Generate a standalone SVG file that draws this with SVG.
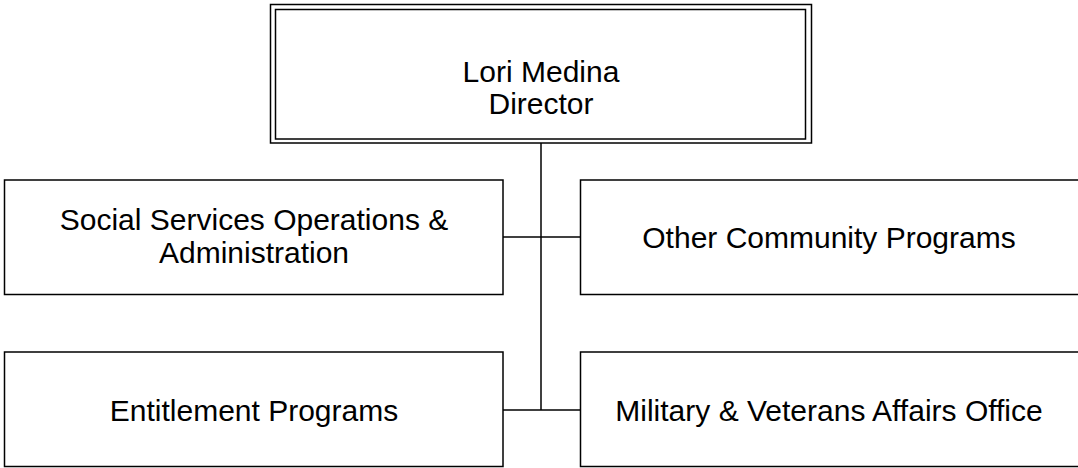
<svg xmlns="http://www.w3.org/2000/svg" width="1078" height="468" viewBox="0 0 1078 468">
<style>
.box{fill:#fff;stroke:#000;stroke-width:1.5}
.ln{fill:none;stroke:#000;stroke-width:1.5}
text{font-family:"Liberation Sans",Arial,sans-serif;font-size:30px;fill:#000;text-anchor:middle}
</style>
<rect width="1078" height="468" fill="#fff"/>
<g id="connectors">
<line class="ln" x1="541" y1="143" x2="541" y2="410"/>
<line class="ln" x1="503" y1="237" x2="580" y2="237"/>
<line class="ln" x1="503" y1="410" x2="580" y2="410"/>
</g>
<g id="director">
<rect class="box" x="270.5" y="4.5" width="541" height="138.5"/>
<rect class="box" x="275.5" y="9.5" width="530" height="129.5"/>
<text x="541" y="82">Lori Medina</text>
<text x="541" y="114">Director</text>
</g>
<g id="ssoa">
<rect class="box" x="4.5" y="180" width="498.5" height="114.5"/>
<text x="254" y="230">Social Services Operations &amp;</text>
<text x="254" y="263">Administration</text>
</g>
<g id="ocp">
<rect class="box" x="580.5" y="180" width="500" height="114.5"/>
<text x="829" y="248">Other Community Programs</text>
</g>
<g id="ep">
<rect class="box" x="4.5" y="352" width="498.5" height="114.5"/>
<text x="254" y="421">Entitlement Programs</text>
</g>
<g id="mvao">
<rect class="box" x="580.5" y="352" width="500" height="114.5"/>
<text x="829" y="421">Military &amp; Veterans Affairs Office</text>
</g>
</svg>
